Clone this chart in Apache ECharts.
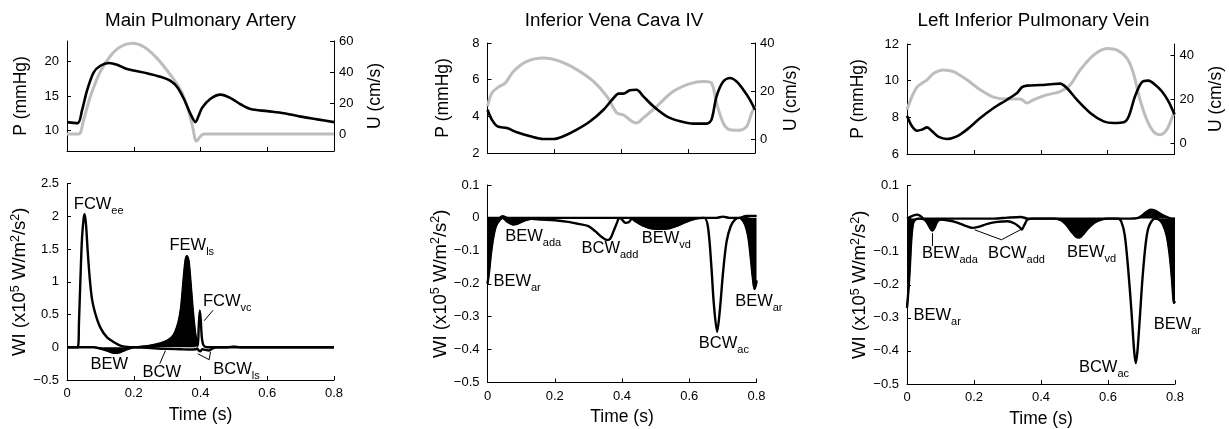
<!DOCTYPE html>
<html><head><meta charset="utf-8">
<script src="https://cdn.jsdelivr.net/npm/echarts@6/dist/echarts.min.js"></script>
<style>html,body{margin:0;padding:0;background:#fff}#c{width:1229px;height:429px}</style>
</head><body><div id="c"></div>
<script>
// ---------- DATA ----------
const titles = ['Main Pulmonary Artery', 'Inferior Vena Cava IV', 'Left Inferior Pulmonary Vein'];

// Main Pulmonary Artery: pressure (mmHg) and velocity (cm/s)
const mpaPT = [0, 0.032, 0.045, 0.06, 0.08, 0.1, 0.125, 0.15, 0.175, 0.2, 0.24, 0.28, 0.31, 0.33, 0.35, 0.37, 0.385, 0.395, 0.405, 0.43, 0.46, 0.49, 0.52, 0.55, 0.6, 0.65, 0.7, 0.75, 0.8];
const mpaP  = [11.2, 11.05, 12.9, 15.8, 18.45, 19.4, 19.8, 19.55, 19.0, 18.7, 18.3, 17.8, 17.2, 16.3, 14.6, 12.4, 11.2, 12.2, 13.3, 14.6, 15.2, 14.7, 13.8, 13.1, 12.8, 12.5, 12.0, 11.6, 11.2];
const mpaUT = [0, 0.035, 0.05, 0.07, 0.1, 0.13, 0.16, 0.195, 0.23, 0.27, 0.31, 0.34, 0.36, 0.375, 0.388, 0.4, 0.41, 0.8];
const mpaU  = [0, 0, 9.2, 24.2, 40.3, 50.3, 56.3, 58.5, 56.3, 48.8, 38.1, 28.5, 17.8, 6, -4.7, -1.5, 0, 0];

// Inferior Vena Cava IV
const ivcPT = [0, 0.013, 0.03, 0.058, 0.088, 0.128, 0.167, 0.197, 0.227, 0.267, 0.307, 0.347, 0.377, 0.392, 0.406, 0.426, 0.446, 0.466, 0.496, 0.536, 0.576, 0.616, 0.656, 0.67, 0.685, 0.705, 0.725, 0.745, 0.765, 0.785, 0.8];
const ivcP  = [4.36, 3.82, 3.45, 3.36, 3.13, 2.91, 2.76, 2.76, 2.91, 3.27, 3.73, 4.36, 5.0, 5.24, 5.24, 5.42, 5.45, 5.09, 4.55, 4.0, 3.73, 3.6, 3.6, 3.82, 5.09, 5.9, 6.09, 5.9, 5.45, 4.9, 4.36];
const ivcUT = [0, 0.013, 0.033, 0.053, 0.078, 0.118, 0.167, 0.217, 0.267, 0.317, 0.357, 0.387, 0.406, 0.431, 0.446, 0.466, 0.506, 0.556, 0.606, 0.646, 0.67, 0.685, 0.705, 0.725, 0.755, 0.775, 0.79, 0.8];
const ivcU  = [13.8, 19.3, 21.8, 23.4, 28.3, 32.4, 33.8, 32.4, 29.0, 24.1, 17.9, 11.0, 10.3, 7.6, 6.9, 9.0, 13.8, 20.0, 23.2, 24.1, 23.4, 15.2, 6.9, 4.1, 3.9, 5.5, 11.0, 13.8];

// Left Inferior Pulmonary Vein
const lipvPT = [0, 0.015, 0.03, 0.045, 0.06, 0.075, 0.095, 0.12, 0.149, 0.179, 0.219, 0.259, 0.299, 0.329, 0.344, 0.359, 0.399, 0.438, 0.458, 0.478, 0.508, 0.548, 0.588, 0.618, 0.648, 0.663, 0.682, 0.702, 0.722, 0.742, 0.762, 0.782, 0.8];
const lipvP  = [8.09, 7.51, 7.27, 7.33, 7.45, 7.24, 6.93, 6.82, 6.96, 7.33, 7.96, 8.51, 8.96, 9.33, 9.65, 9.73, 9.76, 9.82, 9.84, 9.6, 8.96, 8.24, 7.78, 7.69, 7.73, 8.05, 9.15, 9.91, 10.0, 9.78, 9.42, 8.87, 8.15];
const lipvUT = [0, 0.015, 0.03, 0.045, 0.06, 0.08, 0.109, 0.139, 0.179, 0.219, 0.259, 0.299, 0.339, 0.359, 0.378, 0.418, 0.458, 0.488, 0.518, 0.558, 0.598, 0.628, 0.658, 0.677, 0.697, 0.717, 0.737, 0.757, 0.777, 0.792, 0.8];
const lipvU  = [15.3, 21.3, 25.5, 27.3, 28.8, 31.8, 33.3, 32.5, 28.8, 24.3, 21.0, 20.1, 20.1, 18.3, 19.8, 22.0, 23.5, 26.5, 33.3, 40.0, 43.0, 42.2, 38.5, 31.8, 19.8, 10.8, 5.5, 4.0, 6.3, 11.5, 14.5];

// Wave intensity (x10^5 W/m^2/s^2): forward (dI+) and backward (dI-)
const mpaFwdT = [0, 0.032, 0.036, 0.04, 0.045, 0.05, 0.053, 0.057, 0.062, 0.068, 0.075, 0.085, 0.1, 0.12, 0.14, 0.16, 0.18, 0.2, 0.25, 0.28, 0.3, 0.314, 0.324, 0.334, 0.342, 0.349, 0.355, 0.359, 0.364, 0.369, 0.376, 0.382, 0.389, 0.392, 0.395, 0.398, 0.401, 0.404, 0.409, 0.42, 0.48, 0.5, 0.52, 0.8];
const mpaFwd  = [0, 0, 0.4, 1.01, 1.67, 1.97, 2.03, 1.87, 1.47, 1.06, 0.73, 0.51, 0.3, 0.15, 0.08, 0.025, 0.005, 0, 0.025, 0.06, 0.1, 0.15, 0.23, 0.38, 0.61, 1.01, 1.32, 1.39, 1.32, 1.06, 0.61, 0.3, 0.05, 0.02, 0.35, 0.56, 0.4, 0.15, 0.03, 0, 0, 0.01, 0, 0];
const mpaBwdT = [0, 0.08, 0.1, 0.12, 0.14, 0.155, 0.17, 0.185, 0.2, 0.22, 0.26, 0.3, 0.34, 0.37, 0.385, 0.39, 0.395, 0.4, 0.405, 0.415, 0.425, 0.435, 0.45, 0.8];
const mpaBwd  = [0, 0, -0.02, -0.05, -0.085, -0.08, -0.05, -0.02, 0, -0.005, -0.015, -0.025, -0.03, -0.035, -0.03, -0.02, -0.05, -0.06, -0.03, -0.04, -0.05, -0.02, 0, 0];
const mpaFwdFill = [[0.2, 0.392], [0.48, 0.52]];   // forward expansion (filled)
const mpaBwdFill = [[0.08, 0.2]];                   // backward expansion (filled)

const ivcFwdT = [0, 0.035, 0.045, 0.06, 0.68, 0.7, 0.72, 0.75, 0.77, 0.8];
const ivcFwd  = [0, 0, 0.005, 0, 0, 0.004, 0, 0, 0.006, 0.006];
const ivcBwdT = [0, 0.005, 0.01, 0.017, 0.025, 0.035, 0.045, 0.05, 0.06, 0.076, 0.09, 0.11, 0.13, 0.16, 0.2, 0.24, 0.27, 0.3, 0.32, 0.34, 0.355, 0.365, 0.375, 0.385, 0.392, 0.4, 0.41, 0.42, 0.43, 0.44, 0.46, 0.48, 0.5, 0.53, 0.56, 0.59, 0.62, 0.645, 0.656, 0.666, 0.673, 0.683, 0.691, 0.701, 0.711, 0.723, 0.736, 0.751, 0.766, 0.776, 0.783, 0.789, 0.794, 0.799, 0.8];
const ivcBwd  = [-0.2, -0.16, -0.11, -0.06, -0.025, -0.008, 0, -0.003, -0.012, -0.02, -0.017, -0.008, -0.003, -0.005, -0.007, -0.012, -0.018, -0.025, -0.04, -0.058, -0.067, -0.063, -0.04, -0.015, 0, -0.005, -0.015, -0.013, -0.003, -0.01, -0.022, -0.03, -0.033, -0.033, -0.025, -0.012, -0.002, 0, -0.03, -0.15, -0.26, -0.346, -0.28, -0.16, -0.072, -0.026, -0.005, 0, -0.02, -0.06, -0.12, -0.18, -0.216, -0.2, -0.19];
const ivcFwdFill = [[0.75, 0.8]];
const ivcBwdFill = [[0, 0.13], [0.43, 0.645], [0.751, 0.8]];

const lipvFwdT = [0, 0.01, 0.02, 0.03, 0.04, 0.05, 0.26, 0.3, 0.34, 0.36, 0.67, 0.69, 0.7, 0.715, 0.727, 0.74, 0.76, 0.78, 0.79, 0.8];
const lipvFwd  = [0, 0.005, 0.01, 0.012, 0.008, 0, 0, 0.003, 0.005, 0, 0, 0.002, 0.008, 0.02, 0.027, 0.024, 0.012, 0.003, 0, 0];
const lipvBwdT = [0, 0.004, 0.008, 0.013, 0.018, 0.025, 0.035, 0.05, 0.06, 0.07, 0.076, 0.082, 0.09, 0.1, 0.12, 0.15, 0.175, 0.195, 0.21, 0.24, 0.27, 0.3, 0.32, 0.335, 0.343, 0.35, 0.36, 0.38, 0.44, 0.46, 0.475, 0.49, 0.505, 0.515, 0.525, 0.54, 0.56, 0.58, 0.6, 0.63, 0.64, 0.65, 0.66, 0.67, 0.678, 0.683, 0.688, 0.695, 0.703, 0.712, 0.72, 0.73, 0.74, 0.755, 0.765, 0.775, 0.783, 0.79, 0.795, 0.797, 0.8];
const lipvBwd  = [-0.27, -0.22, -0.155, -0.06, -0.015, -0.003, 0, -0.002, -0.012, -0.03, -0.036, -0.028, -0.01, -0.003, -0.005, -0.012, -0.022, -0.028, -0.026, -0.016, -0.01, -0.008, -0.014, -0.025, -0.033, -0.02, -0.003, 0, 0, -0.005, -0.018, -0.038, -0.055, -0.057, -0.048, -0.03, -0.012, -0.003, 0, 0, -0.01, -0.05, -0.15, -0.28, -0.4, -0.437, -0.4, -0.3, -0.18, -0.08, -0.03, -0.008, 0, -0.005, -0.02, -0.05, -0.1, -0.17, -0.24, -0.255, -0.25];
const lipvFwdFill = [[0.67, 0.8]];
const lipvBwdFill = [[0, 0.1], [0.44, 0.6], [0.74, 0.8]];

// Axis ranges and tick labels
const pRange = [[7, 23], [2, 8], [6, 12]];
const pTicks = [[10, 15, 20], [2, 4, 6, 8], [6, 8, 10, 12]];
const uRange = [[-11, 60], [-5.5, 40], [-4.7, 45]];
const uTicks = [[0, 20, 40, 60], [0, 20, 40], [0, 20, 40]];
const wiRange = [[-0.5, 2.5, 0.5], [-0.5, 0.1, 0.1], [-0.5, 0.1, 0.1]];
const timeTicks = [0, 0.2, 0.4, 0.6, 0.8];

// Wave annotations (time, WI, name, subscript)
const mpaAnn = [[0.095, 2.18, 'FCW', 'ee'], [0.374, 1.56, 'FEW', 'ls'], [0.48, 0.70, 'FCW', 'vc'], [0.127, -0.27, 'BEW', ''], [0.284, -0.39, 'BCW', ''], [0.508, -0.34, 'BCW', 'ls']];
const ivcAnn = [[0.136, -0.055, 'BEW', 'ada'], [0.364, -0.093, 'BCW', 'add'], [0.532, -0.061, 'BEW', 'vd'], [0.088, -0.193, 'BEW', 'ar'], [0.703, -0.38, 'BCW', 'ac'], [0.807, -0.254, 'BEW', 'ar']];
const lipvAnn = [[0.128, -0.106, 'BEW', 'ada'], [0.327, -0.106, 'BCW', 'add'], [0.551, -0.102, 'BEW', 'vd'], [0.09, -0.292, 'BEW', 'ar'], [0.588, -0.451, 'BCW', 'ac'], [0.807, -0.32, 'BEW', 'ar']];
const mpaLeaders = [[[0.411, 0.405], [0.438, 0.567]], [[0.278, -0.25], [0.295, -0.05]], [[0.392, -0.1], [0.426, -0.19], [0.43, -0.07]]];
const ivcLeaders = [];
const lipvLeaders = [[[0.076, -0.044], [0.076, -0.083]], [[0.202, -0.034], [0.282, -0.064], [0.342, -0.032]]];

// ---------- CHART ----------
const FONT = "'Liberation Sans', Arial, Helvetica, sans-serif";
const zip = (T, V) => T.map((t, i) => [t, V[i]]);
const pick = (T, V, ranges) => ranges.map(r => zip(T, V).filter(p => p[0] >= r[0] - 1e-9 && p[0] <= r[1] + 1e-9));
const num = v => String(+(+v).toFixed(3)).replace('-', '\u2212');

const gridPos = [
  {left: 67, top: 41, width: 267, height: 110},
  {left: 487.5, top: 43, width: 267.5, height: 110},
  {left: 907, top: 44, width: 267.5, height: 110},
  {left: 67, top: 183.5, width: 267, height: 196.5},
  {left: 487.5, top: 185, width: 269, height: 197.5},
  {left: 907, top: 185.5, width: 268, height: 198.5}
];
const titleX = [200.5, 614, 1033.5];
const pGap = [37, 35, 40], uGap = [32, 27, 33], wGap = [34, 35, 36];

const axisBase = {
  axisLine: {show: true, onZero: false, lineStyle: {color: '#000', width: 1}},
  axisTick: {show: true, inside: true, length: 4, lineStyle: {color: '#000', width: 1}},
  splitLine: {show: false}
};
const nameStyle = {fontSize: 17.5, color: '#000', fontFamily: FONT};

const xAxis = [], yAxis = [], series = [];
for (let i = 0; i < 6; i++) {
  const bottom = i >= 3;
  xAxis.push(Object.assign({}, axisBase, {
    type: 'value', gridIndex: i, min: 0, max: 0.8, interval: 0.2,
    axisLabel: {show: bottom, color: '#000', fontSize: 13, margin: 7, fontFamily: FONT, formatter: num},
    name: bottom ? 'Time (s)' : '', nameLocation: 'middle', nameGap: 26, nameTextStyle: nameStyle
  }));
}
for (let k = 0; k < 3; k++) {
  yAxis.push(Object.assign({}, axisBase, {
    type: 'value', gridIndex: k, position: 'left', min: pRange[k][0], max: pRange[k][1],
    axisTick: Object.assign({}, axisBase.axisTick, {customValues: pTicks[k]}),
    axisLabel: {color: '#000', fontSize: 13, margin: 8, fontFamily: FONT, customValues: pTicks[k], formatter: num},
    name: 'P (mmHg)', nameLocation: 'middle', nameRotate: 90, nameGap: pGap[k], nameTextStyle: nameStyle
  }));
  yAxis.push(Object.assign({}, axisBase, {
    type: 'value', gridIndex: k, position: 'right', min: uRange[k][0], max: uRange[k][1],
    axisTick: Object.assign({}, axisBase.axisTick, {customValues: uTicks[k]}),
    axisLabel: {color: '#000', fontSize: 13, margin: 5, fontFamily: FONT, customValues: uTicks[k], formatter: num},
    name: 'U (cm/s)', nameLocation: 'middle', nameRotate: 90, nameGap: uGap[k], nameTextStyle: nameStyle
  }));
}
for (let k = 0; k < 3; k++) {
  yAxis.push(Object.assign({}, axisBase, {
    type: 'value', gridIndex: 3 + k, position: 'left', min: wiRange[k][0], max: wiRange[k][1], interval: wiRange[k][2],
    axisLabel: {color: '#000', fontSize: 13, margin: 8, fontFamily: FONT, formatter: num},
    name: '{a|WI (x10}{p|5}{a| W/m}{p|2}{a|/s}{p|2}{a|)}', nameLocation: 'middle', nameRotate: 90, nameGap: wGap[k],
    nameTextStyle: {color: '#000', fontFamily: FONT, rich: {
      a: {fontSize: 18.5, lineHeight: 22, color: '#000', fontFamily: FONT},
      p: {fontSize: 12.5, lineHeight: 12, verticalAlign: 'top', color: '#000', fontFamily: FONT}}}
  }));
}

// top panels: U (gray) and P (black)
const topData = [[mpaPT, mpaP, mpaUT, mpaU], [ivcPT, ivcP, ivcUT, ivcU], [lipvPT, lipvP, lipvUT, lipvU]];
topData.forEach((d, k) => {
  series.push({type: 'line', xAxisIndex: k, yAxisIndex: 2 * k + 1, data: zip(d[2], d[3]), smooth: 0.3, symbol: 'none',
    lineStyle: {color: '#bdbdbd', width: 3}, z: 2});
  series.push({type: 'line', xAxisIndex: k, yAxisIndex: 2 * k, data: zip(d[0], d[1]), smooth: 0.3, symbol: 'none',
    lineStyle: {color: '#000', width: 2.6}, z: 3});
});

// bottom panels: wave intensity
const wiData = [
  [mpaFwdT, mpaFwd, mpaBwdT, mpaBwd, mpaFwdFill, mpaBwdFill, mpaAnn, mpaLeaders],
  [ivcFwdT, ivcFwd, ivcBwdT, ivcBwd, ivcFwdFill, ivcBwdFill, ivcAnn, ivcLeaders],
  [lipvFwdT, lipvFwd, lipvBwdT, lipvBwd, lipvFwdFill, lipvBwdFill, lipvAnn, lipvLeaders]
];
wiData.forEach((d, k) => {
  const xi = 3 + k, yi = 6 + k;
  const fills = pick(d[0], d[1], d[4]).concat(pick(d[2], d[3], d[5]));
  fills.forEach(f => series.push({type: 'line', xAxisIndex: xi, yAxisIndex: yi, data: f, smooth: 0.3, symbol: 'none',
    lineStyle: {color: '#000', width: 1.5}, areaStyle: {color: '#000', opacity: 1, origin: 0}, z: 2}));
  series.push({type: 'line', xAxisIndex: xi, yAxisIndex: yi, data: zip(d[0], d[1]), smooth: 0.3, symbol: 'none',
    lineStyle: {color: '#000', width: 2.4}, z: 3});
  series.push({type: 'line', xAxisIndex: xi, yAxisIndex: yi, data: zip(d[2], d[3]), smooth: 0.3, symbol: 'none',
    lineStyle: {color: '#000', width: 2.4}, z: 3});
  d[7].forEach(l => series.push({type: 'line', xAxisIndex: xi, yAxisIndex: yi, data: l, symbol: 'none', silent: true,
    lineStyle: {color: '#000', width: 1}, z: 4}));
  series.push({type: 'scatter', xAxisIndex: xi, yAxisIndex: yi, symbolSize: 1, clip: false, silent: true,
    itemStyle: {color: 'rgba(0,0,0,0)', opacity: 1}, z: 5,
    data: d[6].map(a => ({value: [a[0], a[1]], label: {formatter: a[3] ? '{m|' + a[2] + '}{s|' + a[3] + '}' : '{m|' + a[2] + '}'}})),
    label: {show: true, position: 'inside', color: '#000', opacity: 1, textBorderWidth: 0, rich: {
      m: {fontSize: 16.5, lineHeight: 24, color: '#000', fontFamily: FONT},
      s: {fontSize: 11, lineHeight: 12, verticalAlign: 'bottom', color: '#000', fontFamily: FONT}}}
  });
});

const chart = echarts.init(document.getElementById('c'), null, {renderer: 'canvas'});
chart.setOption({
  animation: false,
  backgroundColor: '#fff',
  textStyle: {fontFamily: FONT},
  title: titles.map((t, k) => ({text: t, left: titleX[k], top: 11, padding: 0, textAlign: 'center',
    textStyle: {fontSize: 18.8, fontWeight: 'normal', color: '#000', fontFamily: FONT}})),
  grid: gridPos.map(g => Object.assign({outerBoundsMode: 'none', containLabel: false}, g)),
  xAxis, yAxis, series
});
</script></body></html>
